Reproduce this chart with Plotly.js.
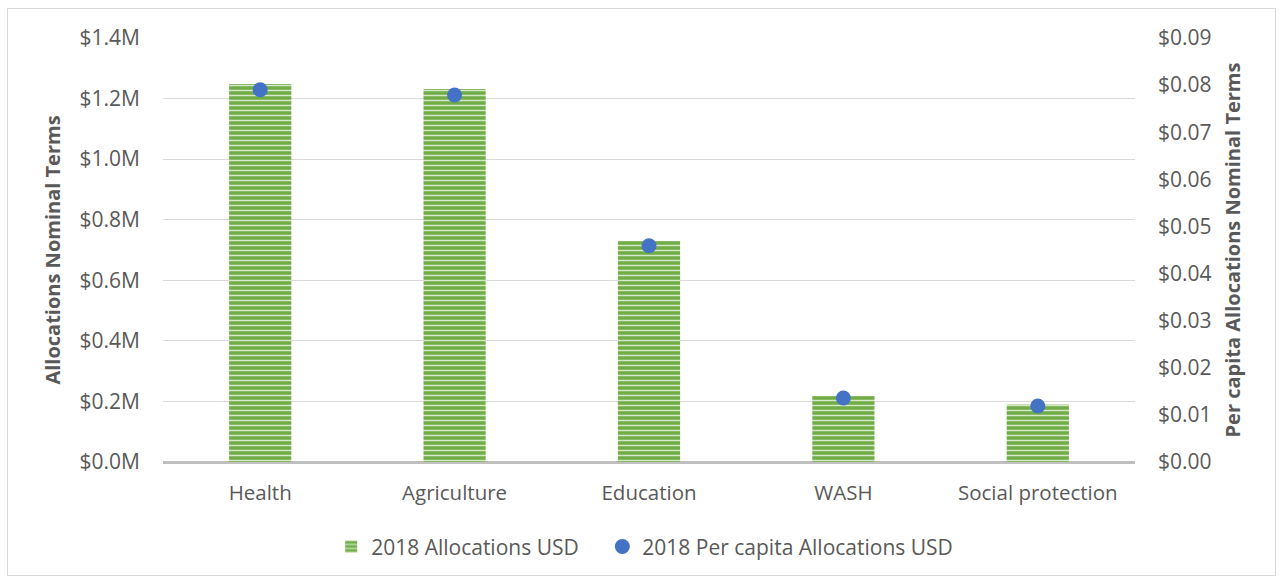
<!DOCTYPE html>
<html><head><meta charset="utf-8">
<script src="https://cdn.plot.ly/plotly-3.0.1.min.js"></script>
<style>body{margin:0;background:#fff}#frame{position:absolute;left:7px;top:8px;width:1267px;height:566px;border:1px solid #d9d9d9;pointer-events:none}</style>
</head><body>
<div id="chart" style="width:1283px;height:580px;"></div>
<div id="frame"></div>
<script>
const categories = ["Health", "Agriculture", "Education", "WASH", "Social protection"];
const allocations = [1248000, 1232000, 730000, 218000, 190000];
const perCapita = [0.0790, 0.0779, 0.0459, 0.0136, 0.0119];
const leftTickVals = [0, 200000, 400000, 600000, 800000, 1000000, 1200000, 1400000];
const leftTickText = ["$0.0M", "$0.2M", "$0.4M", "$0.6M", "$0.8M", "$1.0M", "$1.2M", "$1.4M"];
const rightTickVals = [0, 0.01, 0.02, 0.03, 0.04, 0.05, 0.06, 0.07, 0.08, 0.09];
const rightTickText = ["$0.00", "$0.01", "$0.02", "$0.03", "$0.04", "$0.05", "$0.06", "$0.07", "$0.08", "$0.09"];

const font = {family: "'Open Sans', sans-serif", size: 21, color: "#595959"};
const xFont = {family: "'Open Sans', sans-serif", size: 20.5, color: "#595959"};
const titleFont = {family: "'Open Sans', sans-serif", size: 20, color: "#595959", weight: "bold"};

const data = [
  {type: "bar", x: categories, y: allocations, name: "2018 Allocations USD", legend: "legend",
   marker: {color: "#70AD47", line: {width: 0},
            pattern: {shape: "-", fgcolor: "#d5e8c8", bgcolor: "#70AD47", size: 5, solidity: 0.3, fillmode: "replace"}},
   hoverinfo: "skip"},
  {type: "scatter", mode: "markers", x: categories, y: perCapita, yaxis: "y2", legend: "legend2",
   name: "2018 Per capita Allocations USD",
   marker: {color: "#4472C4", size: 15}, hoverinfo: "skip"}
];

const legendBase = {orientation: "h", y: -0.2, yanchor: "middle", xanchor: "left",
                    font: font, itemwidth: 30, bgcolor: "rgba(0,0,0,0)"};

const layout = {
  width: 1283, height: 580,
  margin: {l: 163, r: 148, t: 38, b: 118},
  paper_bgcolor: "#fff", plot_bgcolor: "#fff",
  font: font,
  bargap: 0.68,
  showlegend: true,
  legend: Object.assign({}, legendBase, {x: 0.173}),
  legend2: Object.assign({}, legendBase, {x: 0.452}),
  xaxis: {showgrid: false, zeroline: false, showline: false, ticks: "", ticklabelstandoff: 16,
          tickfont: xFont, fixedrange: true},
  yaxis: {range: [0, 1400000], tickvals: leftTickVals, ticktext: leftTickText,
          showgrid: true, gridcolor: "#d9d9d9", gridwidth: 1,
          zeroline: true, zerolinecolor: "#bfbfbf", zerolinewidth: 3,
          showline: false, ticks: "", ticklabelstandoff: 22, tickfont: font,
          title: {text: "Allocations Nominal Terms", font: titleFont, standoff: 13},
          fixedrange: true},
  yaxis2: {range: [0, 0.09], tickvals: rightTickVals, ticktext: rightTickText,
           overlaying: "y", side: "right", showgrid: false, zeroline: false,
           showline: false, ticks: "", ticklabelstandoff: 22, tickfont: font,
           title: {text: "Per capita Allocations Nominal Terms", font: titleFont, standoff: 15},
           fixedrange: true}
};

Plotly.newPlot("chart", data, layout, {displayModeBar: false, staticPlot: true});
</script>
</body></html>
